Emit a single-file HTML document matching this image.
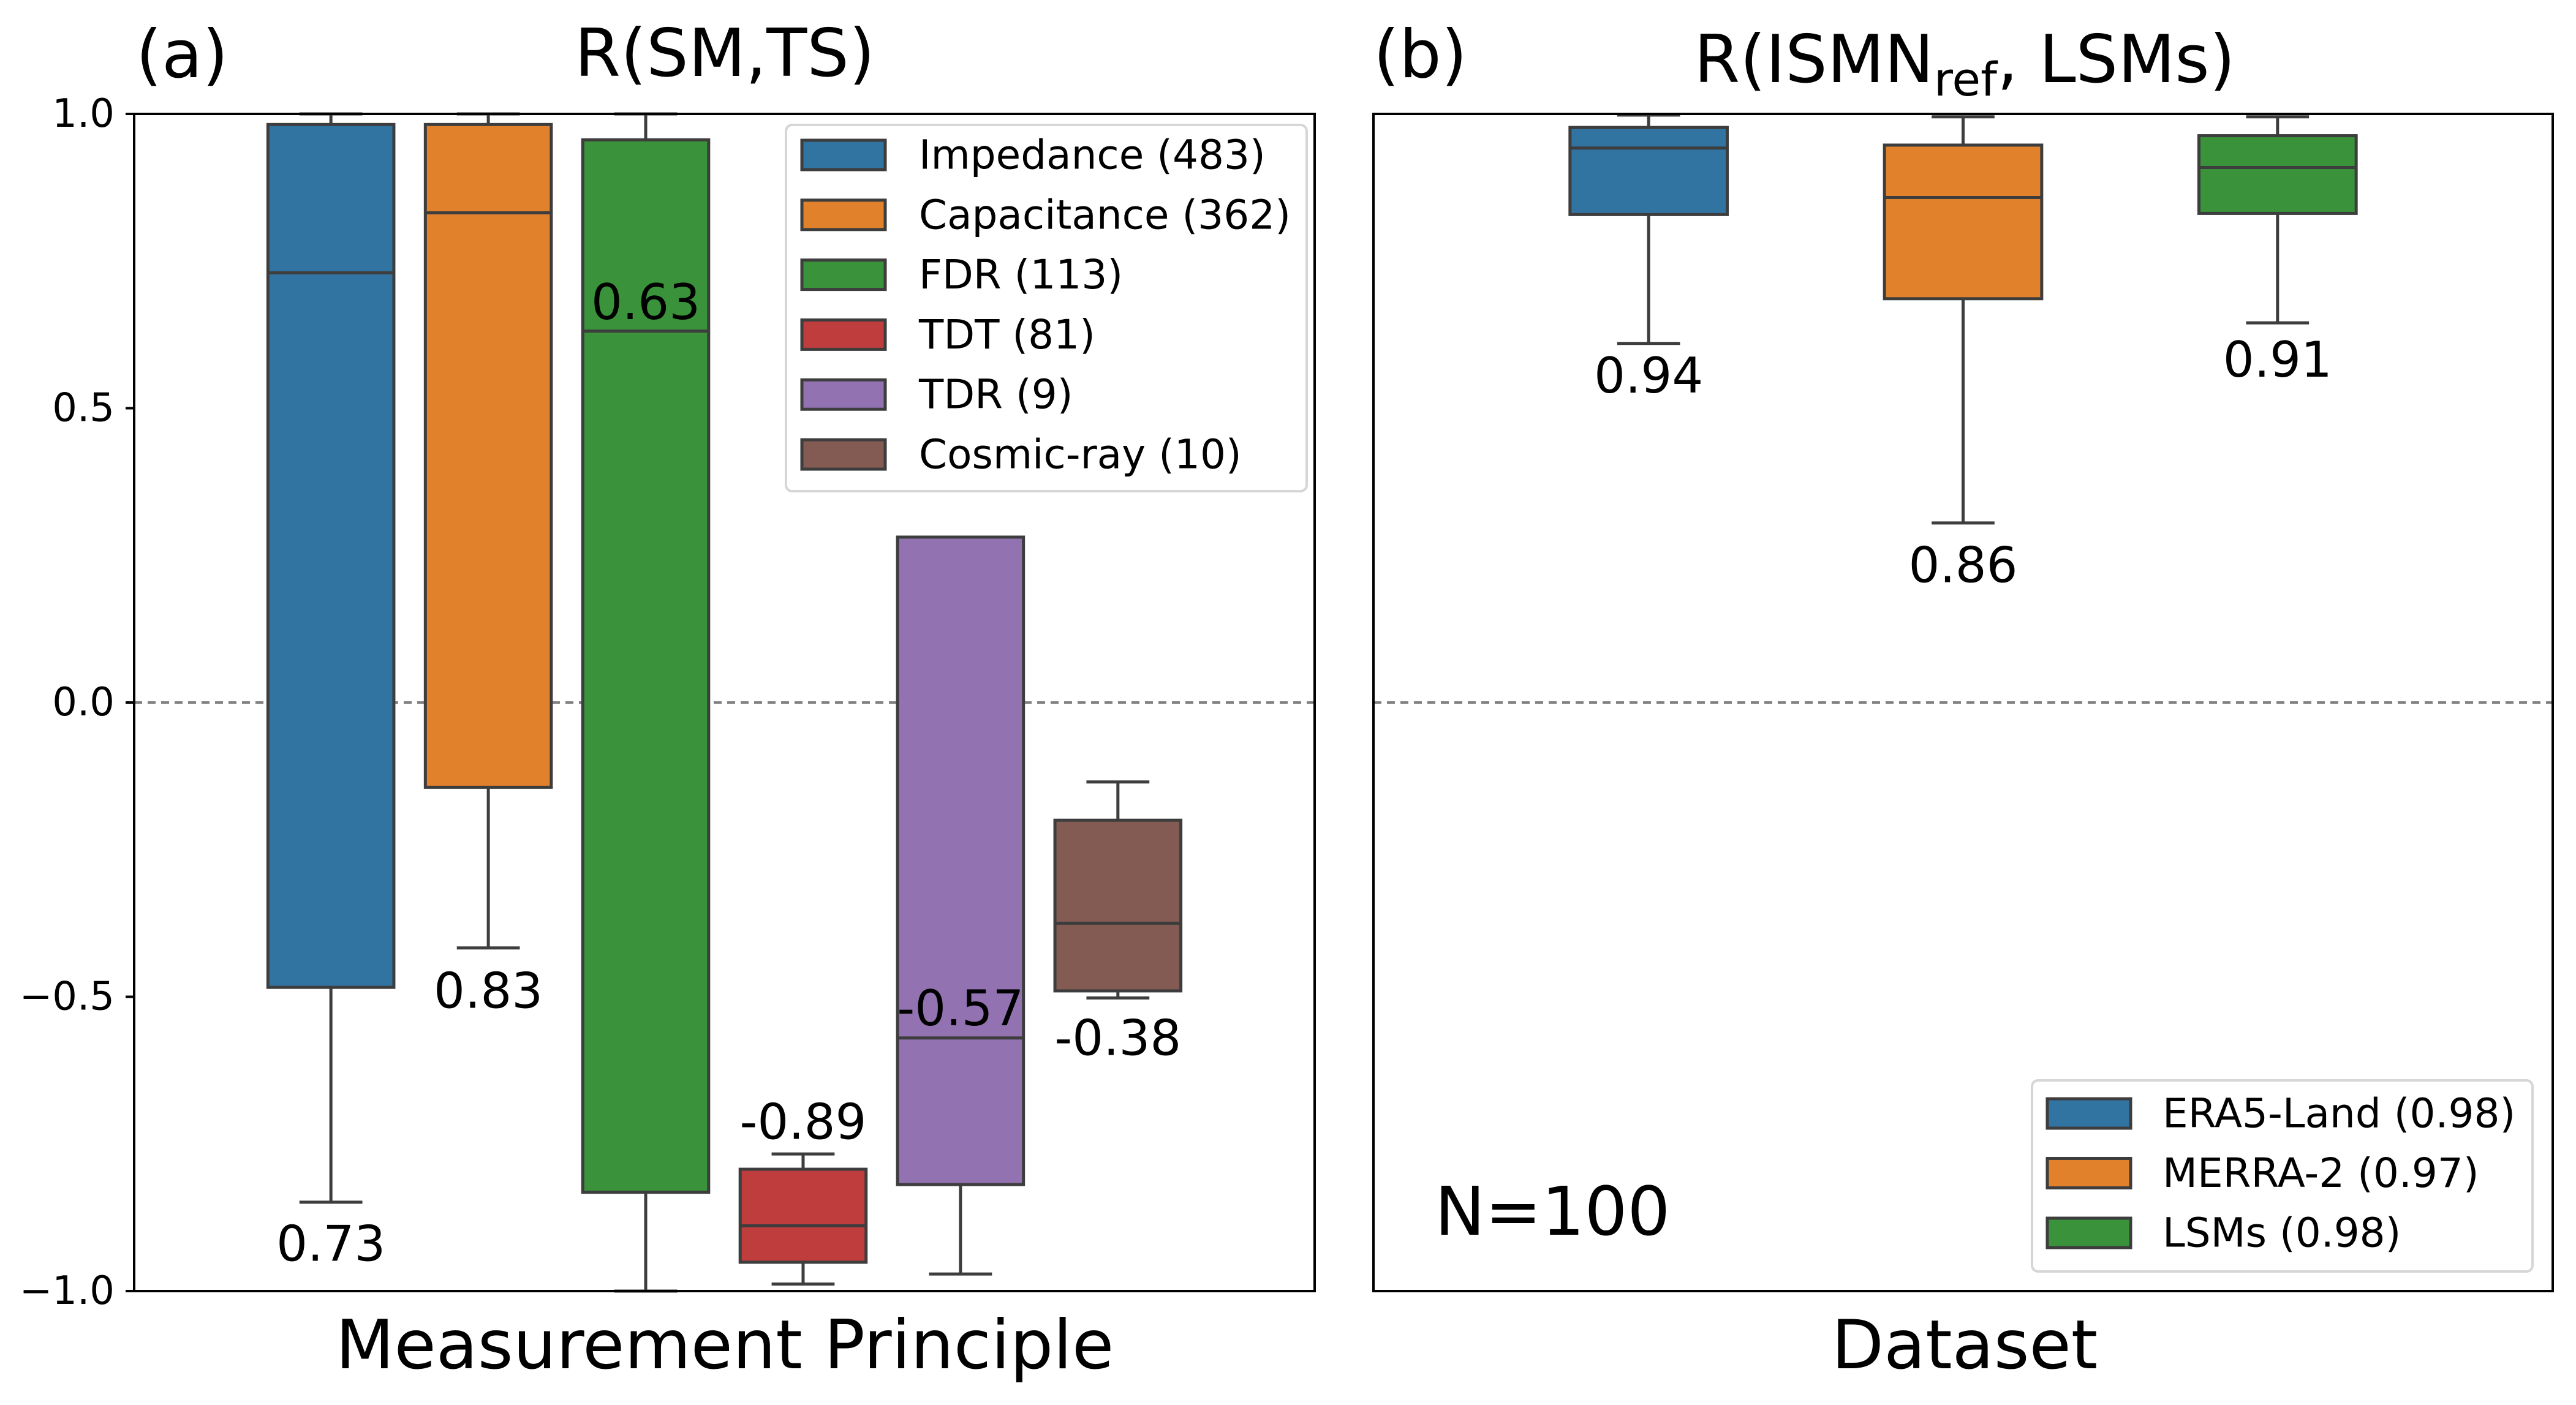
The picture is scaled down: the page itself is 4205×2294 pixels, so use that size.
<!DOCTYPE html>
<html><head><meta charset="utf-8">
<style>
html,body{margin:0;padding:0;background:#fff;}
svg{display:block;font-family:"DejaVu Sans","Liberation Sans",sans-serif;}
</style></head>
<body>
<svg id="fig" width="4205" height="2294" viewBox="0 0 4205 2294" xmlns="http://www.w3.org/2000/svg">
<rect x="0" y="0" width="4205" height="2294" fill="#fff"/>
<g id="pa"></g>
<g id="pb"></g>
<text x="222" y="126" font-size="108" fill="#000">(a)</text>
<text x="1183" y="124" font-size="108" text-anchor="middle" fill="#000">R(SM,TS)</text>
<text x="1183" y="2234" font-size="111" text-anchor="middle" fill="#000">Measurement Principle</text>
<text x="2242" y="126" font-size="108" fill="#000">(b)</text>
<text x="3207" y="134" font-size="108" text-anchor="middle" fill="#000">R(ISMN<tspan font-size="76" dy="22">ref</tspan><tspan dy="-22">, LSMs)</tspan></text>
<text x="3207" y="2234" font-size="111" text-anchor="middle" fill="#000">Dataset</text>
<text x="2342" y="2016" font-size="110" fill="#000">N=100</text>
</svg>
<script>
// ---- Panel (a) data ----
const catsA = ["Impedance (483)","Capacitance (362)","FDR (113)","TDT (81)","TDR (9)","Cosmic-ray (10)"];
const colorsA = ["#3274a1","#e1812c","#3a923a","#c03d3e","#9372b2","#845b53"];
const whiskHiA = [1.0, 1.0, 1.0, -0.767, 0.281, -0.135];
const q3A = [0.982, 0.982, 0.956, -0.793, 0.281, -0.200];
const medA = [0.730, 0.832, 0.631, -0.889, -0.570, -0.375];
const q1A = [-0.484, -0.144, -0.832, -0.951, -0.819, -0.490];
const whiskLoA = [-0.849, -0.417, -1.0, -0.988, -0.971, -0.502];
const labelsA = ["0.73","0.83","0.63","-0.89","-0.57","-0.38"];
const labelValA = [-0.92, -0.49, 0.68, -0.713, -0.52, -0.57];
// ---- Panel (b) data ----
const catsB = ["ERA5-Land (0.98)","MERRA-2 (0.97)","LSMs (0.98)"];
const colorsB = ["#3274a1","#e1812c","#3a923a"];
const whiskHiB = [0.998, 0.995, 0.995];
const q3B = [0.977, 0.947, 0.963];
const medB = [0.942, 0.858, 0.909];
const q1B = [0.829, 0.686, 0.831];
const whiskLoB = [0.610, 0.305, 0.645];
const labelsB = ["0.94","0.86","0.91"];
const labelValB = [0.555, 0.233, 0.582];
const yTicks = [1.0, 0.5, 0.0, -0.5, -1.0];
const yTickLabels = ["1.0","0.5","0.0","\u22120.5","\u22121.0"];

const NS="http://www.w3.org/2000/svg";
function mk(parent,tag,attrs,text){const e=document.createElementNS(NS,tag);for(const k in attrs)e.setAttribute(k,attrs[k]);if(text!==undefined)e.textContent=text;parent.appendChild(e);return e;}
const yTop=186, yBot=2108;
function yS(v){return yTop+(1-v)/2*(yBot-yTop);}

function panel(g,x0,x1,cats,colors,hi,q3,med,q1,lo,labs,labV,boxFrac,capFrac,showY){
  const n=cats.length, W=x1-x0, unit=W;
  const cx=x0+W/2, slot=0.8/n*unit;
  function xS(i){return cx+(-0.4+(i+0.5)*0.8/n)*unit;}
  const bw=slot*boxFrac, cw=bw*capFrac;
  const zl=mk(g,'line',{x1:x0,x2:x1,y1:yS(0),y2:yS(0),stroke:'#808080','stroke-width':4,'stroke-dasharray':'13,9'});
  
  
  for(let i=0;i<n;i++){
    const bx=xS(i);
    const bg=mk(g,'g',{});
    
    
    mk(bg,'line',{x1:bx,x2:bx,y1:yS(hi[i]),y2:yS(q3[i]),stroke:'#3d3d3d','stroke-width':5});
    mk(bg,'line',{x1:bx,x2:bx,y1:yS(q1[i]),y2:yS(lo[i]),stroke:'#3d3d3d','stroke-width':5});
    mk(bg,'line',{x1:bx-cw/2,x2:bx+cw/2,y1:yS(hi[i]),y2:yS(hi[i]),stroke:'#3d3d3d','stroke-width':5});
    mk(bg,'line',{x1:bx-cw/2,x2:bx+cw/2,y1:yS(lo[i]),y2:yS(lo[i]),stroke:'#3d3d3d','stroke-width':5});
    mk(bg,'rect',{x:bx-bw/2,y:yS(q3[i]),width:bw,height:yS(q1[i])-yS(q3[i]),fill:colors[i],stroke:'#3d3d3d','stroke-width':5});
    mk(bg,'line',{x1:bx-bw/2,x2:bx+bw/2,y1:yS(med[i]),y2:yS(med[i]),stroke:'#3d3d3d','stroke-width':5});
    const t=mk(g,'text',{x:bx,y:yS(labV[i]),'font-size':80,'text-anchor':'middle','dominant-baseline':'central',fill:'#000'},labs[i]);
    
    
  }
  const fr=mk(g,'rect',{x:x0,y:yTop,width:W,height:yBot-yTop,fill:'none',stroke:'#000','stroke-width':4});
  
  
  if(showY){
    for(let k=0;k<yTicks.length;k++){
      const y=yS(yTicks[k]);
      mk(g,'line',{x1:x0-14,x2:x0,y1:y,y2:y,stroke:'#000','stroke-width':4});
      const t=mk(g,'text',{x:x0-32,y:y,'font-size':64,'text-anchor':'end','dominant-baseline':'central',fill:'#000'},yTickLabels[k]);
      
      
    }
  }
}
const pa=document.getElementById('pa'), pb=document.getElementById('pb');
panel(pa,219,2146,catsA,colorsA,whiskHiA,q3A,medA,q1A,whiskLoA,labelsA,labelValA,0.8,0.5,true);
panel(pb,2242,4167,catsB,colorsB,whiskHiB,q3B,medB,q1B,whiskLoB,labelsB,labelValB,0.5,0.4,false);

function legend(g,x,y,w,h,cats,colors,cy0,dy,patchX,textX,name){
  const lg=mk(g,'g',{});
  
  
  mk(lg,'rect',{x:x,y:y,width:w,height:h,rx:10,fill:'#fff','fill-opacity':0.8,stroke:'#d6d6d6','stroke-width':4});
  for(let i=0;i<cats.length;i++){
    const cy=cy0+i*dy;
    const e=mk(lg,'g',{});
    
    
    mk(e,'rect',{x:patchX,y:cy-24,width:136,height:48,fill:colors[i],stroke:'#3d3d3d','stroke-width':5});
    mk(e,'text',{x:textX,y:cy,'font-size':66,'dominant-baseline':'central',fill:'#000'},cats[i]);
  }
}
legend(pa,1283,204,850,598,catsA,colorsA,253,97.8,1309,1500,'legend-a');
legend(pb,3317,1764,817,312,catsB,colorsB,1818,97.5,3342,3530,'legend-b');
</script>
</body></html>
